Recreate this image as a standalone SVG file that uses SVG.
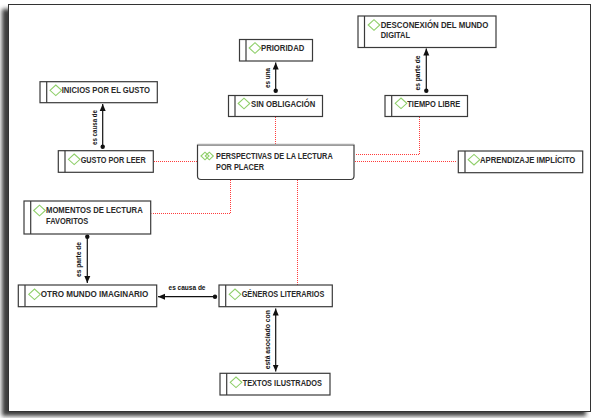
<svg xmlns="http://www.w3.org/2000/svg" xmlns:xlink="http://www.w3.org/1999/xlink" width="598" height="418" viewBox="0 0 598 418">
<style>
.box{fill:#fff;stroke:#3a3a3a;stroke-width:1.2}
.bar{stroke:#3a3a3a;stroke-width:1.2}
.dia{fill:none;stroke:#8fcf6a;stroke-width:1.1}
.t{font-family:"Liberation Sans",Arial,sans-serif;font-weight:bold;font-size:8.6px;fill:#2a2a2a}
.lbl{font-family:"Liberation Sans",Arial,sans-serif;font-weight:bold;font-size:6.4px;fill:#111}
.rel{stroke:#111;stroke-width:1.2;fill:none}
.dot{stroke:#ff3b3b;stroke-width:1;stroke-dasharray:1 1;fill:none}
</style>
<defs>
<filter id="sh" x="-5%" y="-5%" width="110%" height="110%"><feGaussianBlur stdDeviation="2"/></filter>
<marker id="arr" markerUnits="userSpaceOnUse" markerWidth="8" markerHeight="8" viewBox="0 0 8 8" refX="7" refY="4" orient="auto-start-reverse"><path d="M0,1 L7,4 L0,7 Z" fill="#111"/></marker>
<marker id="ball" markerUnits="userSpaceOnUse" markerWidth="6" markerHeight="6" viewBox="0 0 6 6" refX="3" refY="3"><circle cx="3" cy="3" r="2.2" fill="#111"/></marker>
<path id="dm" d="M-5.8,0 L0,-5.3 L5.8,0 L0,5.3 Z"/>
<path id="dm2" d="M-4,0 L0,-3.8 L4,0 L0,3.8 Z"/>
</defs>
<rect x="0" y="0" width="598" height="418" fill="#fff"/>
<rect x="2" y="9" width="584" height="407" fill="#3c3c3c" filter="url(#sh)"/>
<rect x="8.5" y="4.5" width="582" height="407" fill="#fff" stroke="#333" stroke-width="1"/>

<g id="connectors">
<path class="dot" d="M275.5,117 V145"/>
<path class="dot" d="M419.5,117 V154.5 H355"/>
<path class="dot" d="M355,161.5 H457"/>
<path class="dot" d="M154,161.5 H197"/>
<path class="dot" d="M230.5,180 V213.5 H151.5"/>
<path class="dot" d="M297.5,180 V285"/>
<path class="rel" d="M275.7,90.7 V62.5" marker-start="url(#ball)" marker-end="url(#arr)"/>
<path class="rel" d="M426.3,90.7 V48.5" marker-start="url(#ball)" marker-end="url(#arr)"/>
<path class="rel" d="M102.7,146.7 V104" marker-start="url(#ball)" marker-end="url(#arr)"/>
<path class="rel" d="M87.3,236.7 V283" marker-start="url(#ball)" marker-end="url(#arr)"/>
<path class="rel" d="M215,296.7 H158" marker-start="url(#ball)" marker-end="url(#arr)"/>
<path class="rel" d="M275.7,308.5 V371.5" marker-start="url(#arr)" marker-end="url(#arr)"/>
<text class="lbl" transform="translate(269.5,78) rotate(-90)" text-anchor="middle" textLength="20" lengthAdjust="spacingAndGlyphs">es una</text>
<text class="lbl" transform="translate(420,73) rotate(-90)" text-anchor="middle" textLength="35" lengthAdjust="spacingAndGlyphs">es parte de</text>
<text class="lbl" transform="translate(96.5,127.5) rotate(-90)" text-anchor="middle" textLength="35" lengthAdjust="spacingAndGlyphs">es causa de</text>
<text class="lbl" transform="translate(81.3,259.5) rotate(-90)" text-anchor="middle" textLength="35" lengthAdjust="spacingAndGlyphs">es parte de</text>
<text class="lbl" x="187" y="289.5" text-anchor="middle" textLength="37" lengthAdjust="spacingAndGlyphs">es causa de</text>
<text class="lbl" transform="translate(269.8,339.7) rotate(-90)" text-anchor="middle" textLength="59" lengthAdjust="spacingAndGlyphs">está asociado con</text>
</g>

<g id="n-prioridad">
<rect class="box" x="239.5" y="39.5" width="73" height="21.5"/>
<line class="bar" x1="246" y1="39.5" x2="246" y2="61"/>
<use href="#dm" class="dia" x="255" y="48"/>
<text class="t" x="261" y="51.2" textLength="43.3" lengthAdjust="spacingAndGlyphs">PRIORIDAD</text>
</g>

<g id="n-sinobligacion">
<rect class="box" x="228.5" y="95.5" width="94" height="21"/>
<line class="bar" x1="235" y1="95.5" x2="235" y2="116.5"/>
<use href="#dm" class="dia" x="244" y="103.5"/>
<text class="t" x="251" y="106.5" textLength="64.3" lengthAdjust="spacingAndGlyphs">SIN OBLIGACIÓN</text>
</g>

<g id="n-perspectivas">
<path class="box" d="M197.5,145 H354 V176 Q354,179.5 350.5,179.5 H201 Q197.5,179.5 197.5,176 Z"/>
<line x1="197.5" y1="144.3" x2="354" y2="144.3" stroke="#aaa" stroke-width="1.2"/>
<use href="#dm2" class="dia" x="205" y="156"/>
<use href="#dm2" class="dia" x="209.3" y="156"/>
<text class="t" x="216" y="158.8" textLength="116.7" lengthAdjust="spacingAndGlyphs">PERSPECTIVAS DE LA LECTURA</text>
<text class="t" x="216" y="169.8" textLength="48" lengthAdjust="spacingAndGlyphs">POR PLACER</text>
</g>

<g id="n-desconexion">
<rect class="box" x="358" y="16" width="138" height="31.5"/>
<line class="bar" x1="364.5" y1="16" x2="364.5" y2="47.5"/>
<use href="#dm" class="dia" x="374" y="25"/>
<text class="t" x="380.7" y="27.8" textLength="107.7" lengthAdjust="spacingAndGlyphs">DESCONEXIÓN DEL MUNDO</text>
<text class="t" x="380.7" y="38.3" textLength="29.3" lengthAdjust="spacingAndGlyphs">DIGITAL</text>
</g>

<g id="n-tiempolibre">
<rect class="box" x="385" y="95.5" width="82.5" height="21"/>
<line class="bar" x1="391.7" y1="95.5" x2="391.7" y2="116.5"/>
<use href="#dm" class="dia" x="401" y="103.3"/>
<text class="t" x="407.3" y="106.5" textLength="53" lengthAdjust="spacingAndGlyphs">TIEMPO LIBRE</text>
</g>

<g id="n-aprendizaje">
<rect class="box" x="458.3" y="151" width="124.4" height="21.7"/>
<line class="bar" x1="465" y1="151" x2="465" y2="172.7"/>
<use href="#dm" class="dia" x="474" y="159.7"/>
<text class="t" x="480" y="162.8" textLength="95.3" lengthAdjust="spacingAndGlyphs">APRENDIZAJE IMPLÍCITO</text>
</g>

<g id="n-inicios">
<rect class="box" x="40" y="81.7" width="117.3" height="21"/>
<line class="bar" x1="46.7" y1="81.7" x2="46.7" y2="102.7"/>
<use href="#dm" class="dia" x="55.8" y="90.3"/>
<text class="t" x="61.7" y="93" textLength="88.3" lengthAdjust="spacingAndGlyphs">INICIOS POR EL GUSTO</text>
</g>

<g id="n-gusto">
<rect class="box" x="58.3" y="150.7" width="95" height="21.6"/>
<line class="bar" x1="65" y1="150.7" x2="65" y2="172.3"/>
<use href="#dm" class="dia" x="74.2" y="159.3"/>
<text class="t" x="80.7" y="162.5" textLength="65" lengthAdjust="spacingAndGlyphs">GUSTO POR LEER</text>
</g>

<g id="n-momentos">
<rect class="box" x="24" y="201" width="126.7" height="33"/>
<line class="bar" x1="30.7" y1="201" x2="30.7" y2="234"/>
<use href="#dm" class="dia" x="39.5" y="210.5"/>
<text class="t" x="46" y="213.3" textLength="96.7" lengthAdjust="spacingAndGlyphs">MOMENTOS DE LECTURA</text>
<text class="t" x="46" y="224" textLength="42.3" lengthAdjust="spacingAndGlyphs">FAVORITOS</text>
</g>

<g id="n-otromundo">
<rect class="box" x="18.3" y="285" width="138.4" height="21.7"/>
<line class="bar" x1="25" y1="285" x2="25" y2="306.7"/>
<use href="#dm" class="dia" x="34.5" y="294.3"/>
<text class="t" x="40.7" y="297.3" textLength="107.7" lengthAdjust="spacingAndGlyphs">OTRO MUNDO IMAGINARIO</text>
</g>

<g id="n-generos">
<rect class="box" x="219" y="285" width="113.3" height="21.7"/>
<line class="bar" x1="225.7" y1="285" x2="225.7" y2="306.7"/>
<use href="#dm" class="dia" x="235" y="294.3"/>
<text class="t" x="241.7" y="297.3" textLength="82.7" lengthAdjust="spacingAndGlyphs">GÉNEROS LITERARIOS</text>
</g>

<g id="n-textos">
<rect class="box" x="220" y="373.3" width="110" height="21.7"/>
<line class="bar" x1="226.7" y1="373.3" x2="226.7" y2="395"/>
<use href="#dm" class="dia" x="236" y="382.3"/>
<text class="t" x="242.7" y="385.6" textLength="79.3" lengthAdjust="spacingAndGlyphs">TEXTOS ILUSTRADOS</text>
</g>
</svg>
